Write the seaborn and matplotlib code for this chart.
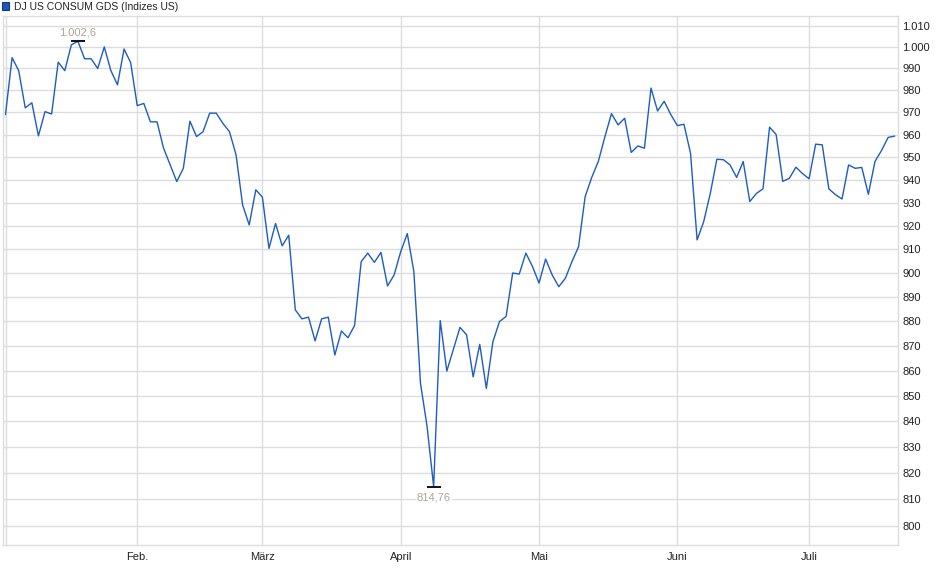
import numpy as np
import pandas as pd
import matplotlib
matplotlib.use("Agg")
import matplotlib.pyplot as plt
import seaborn as sns
from matplotlib.ticker import FixedLocator, FixedFormatter, NullLocator
from matplotlib.patches import Patch

# -- data: daily closes, index = trading day since early January --
closes = [
    969.0, 995.0, 989.0, 972.0, 974.3, 959.4, 970.3, 969.2, 992.9, 989.0,
    1001.0, 1002.6, 994.5, 994.5, 990.0, 1000.0, 989.0, 982.5, 999.0, 992.7,
    973.0, 974.0, 965.7, 965.7, 953.9, 946.5, 939.2, 945.0, 966.0, 959.1,
    961.3, 969.6, 969.6, 965.0, 961.3, 951.0, 929.0, 920.4, 935.6, 932.4,
    910.4, 921.0, 911.5, 916.0, 884.7, 881.0, 881.7, 872.0, 881.0, 881.7,
    866.3, 876.0, 873.3, 878.3, 904.8, 908.4, 904.5, 908.7, 894.6, 899.2,
    909.0, 916.7, 900.6, 855.0, 838.0, 814.76, 880.3, 859.8, 868.6, 877.5,
    874.5, 857.5, 870.6, 852.9, 871.7, 879.9, 882.0, 900.0, 899.6, 908.4,
    902.8, 895.8, 905.9, 899.2, 894.3, 897.8, 904.8, 911.1, 932.6, 941.0,
    948.0, 959.0, 969.4, 964.3, 967.3, 952.0, 954.9, 953.9, 981.0, 970.6,
    975.0, 969.0, 964.0, 964.6, 951.7, 914.0, 921.8, 934.0, 949.0, 948.8,
    946.5, 941.0, 948.0, 930.5, 934.0, 936.0, 963.3, 960.0, 939.3, 940.6,
    945.5, 942.7, 940.4, 955.7, 955.4, 936.0, 933.5, 931.6, 946.5, 945.0,
    945.4, 933.6, 948.0, 952.9, 958.7, 959.3,
]

month_labels = ["Feb.", "März", "April", "Mai", "Juni", "Juli"]
month_starts = [20, 39, 60, 81, 102, 122]   # trading-day index of 1st of month

y_ticks = list(range(800, 1011, 10))
series_name = "DJ US CONSUM GDS (Indizes US)"

df = pd.DataFrame({"day": np.arange(len(closes)), "close": closes})

# -- style --
sns.set_style("white")
plt.rcParams["font.family"] = ["Liberation Sans", "DejaVu Sans"]

line_col = "#1c5cc4"
grid_col = "#dcdcdc"
text_col = "#222222"
mark_col = "#aea496"


def de_num(v, decimals=0):
    # German style: dot for thousands, comma for decimals
    s = f"{v:,.{decimals}f}"
    return s.replace(",", "X").replace(".", ",").replace("X", ".")


fig = plt.figure(figsize=(9.4, 5.79), dpi=100)
ax = fig.add_axes([3 / 940, 34 / 579, 895 / 940, 529 / 579])

sns.lineplot(data=df, x="day", y="close", ax=ax, color=line_col, linewidth=1.0)

ax.set_yscale("log")
ax.set_ylim(792.9, 1014.5)
ax.set_xlim(-0.38, 135.5)

# y axis on the right
ax.yaxis.tick_right()
ax.yaxis.set_major_locator(FixedLocator(y_ticks))
ax.yaxis.set_major_formatter(FixedFormatter([de_num(v) for v in y_ticks]))
ax.yaxis.set_minor_locator(NullLocator())
ax.tick_params(axis="y", length=0, pad=3, labelsize=8, labelcolor=text_col)

# x axis: month starts (+ unlabeled January line)
ax.xaxis.set_major_locator(FixedLocator(month_starts))
ax.xaxis.set_major_formatter(FixedFormatter(month_labels))
ax.xaxis.set_minor_locator(FixedLocator([0]))
ax.tick_params(axis="x", which="major", length=3, color=grid_col, pad=2,
               labelsize=8, labelcolor=text_col)
ax.tick_params(axis="x", which="minor", length=0)

ax.grid(True, which="major", color=grid_col, linewidth=1)
ax.grid(True, which="minor", axis="x", color=grid_col, linewidth=1)
ax.set_axisbelow(True)
ax.set_xlabel("")
ax.set_ylabel("")
for s in ax.spines.values():
    s.set_color(grid_col)
    s.set_linewidth(1)

# -- high / low markers --
i_max = int(np.argmax(closes))
i_min = int(np.argmin(closes))
ax.plot([i_max], [closes[i_max]], marker="_", markersize=10, mew=1.3, color="black")
ax.plot([i_min], [closes[i_min]], marker="_", markersize=10, mew=1.3, color="black")
ax.annotate(de_num(closes[i_max], 1), (i_max, closes[i_max]), xytext=(0, 6),
            textcoords="offset points", ha="center", va="center",
            fontsize=8, color=mark_col)
ax.annotate(de_num(closes[i_min], 2), (i_min, closes[i_min]), xytext=(0, -7.5),
            textcoords="offset points", ha="center", va="center", fontsize=8,
            color=mark_col,
            bbox=dict(boxstyle="square,pad=0.1", fc="white", ec="none"))

# -- legend --
fig.legend(handles=[Patch(facecolor="#1a55c0", edgecolor="#123a80", linewidth=0.8)],
           labels=[series_name], loc="upper left", bbox_to_anchor=(0.0, 1.0),
           frameon=False, fontsize=7.5, handlelength=0.75, handleheight=0.75,
           handletextpad=0.4, borderpad=0.15, borderaxespad=0.0,
           labelcolor=text_col)

fig.savefig("out.png", dpi=100)
